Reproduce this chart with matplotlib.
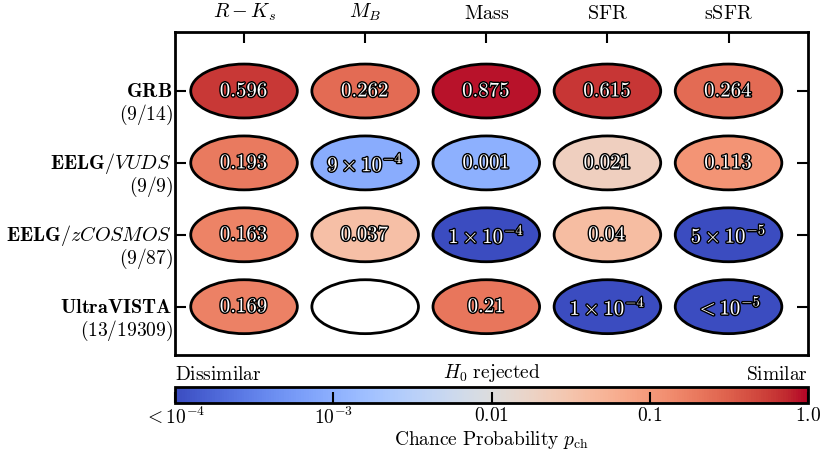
import numpy as np
import matplotlib
matplotlib.use("Agg")
import matplotlib.pyplot as plt
import matplotlib.patheffects as pe
from matplotlib.patches import Ellipse
from matplotlib.colors import LogNorm
from matplotlib import cm

plt.rcParams["mathtext.fontset"] = "cm"
plt.rcParams["font.family"] = ["serif"]

# columns / rows of the comparison table
columns = [r"$R-K_s$", r"$M_B$", r"$\mathrm{Mass}$", r"$\mathrm{SFR}$", r"$\mathrm{sSFR}$"]
samples = [r"$\mathbf{GRB}$", r"$\mathbf{EELG}/\mathit{VUDS}$",
           r"$\mathbf{EELG}/\mathit{zCOSMOS}$", r"$\mathbf{UltraVISTA}$"]
counts = [r"$(9/14)$", r"$(9/9)$", r"$(9/87)$", r"$(13/19309)$"]

# chance probabilities (nan = not available)
p_grb = [0.596, 0.262, 0.875, 0.615, 0.264]
p_vuds = [0.193, 9e-4, 0.001, 0.021, 0.113]
p_zcosmos = [0.163, 0.037, 1e-4, 0.04, 5e-5]
p_uvista = [0.169, np.nan, 0.21, 1e-4, 1e-5]

# printed labels
lab_grb = ["0.596", "0.262", "0.875", "0.615", "0.264"]
lab_vuds = ["0.193", r"9\times10^{-4}", "0.001", "0.021", "0.113"]
lab_zcosmos = ["0.163", "0.037", r"1\times10^{-4}", "0.04", r"5\times10^{-5}"]
lab_uvista = ["0.169", "", "0.21", r"1\times10^{-4}", r"<10^{-5}"]

cbar_ticks = [1e-4, 1e-3, 1e-2, 1e-1, 1.0]
cbar_labels = [r"$<10^{-4}$", r"$10^{-3}$", r"$0.01$", r"$0.1$", r"$1.0$"]

probs = [p_grb, p_vuds, p_zcosmos, p_uvista]
labels = [lab_grb, lab_vuds, lab_zcosmos, lab_uvista]

norm = LogNorm(vmin=1e-4, vmax=1.0)
cmap = plt.get_cmap("coolwarm")

fig = plt.figure(figsize=(8.3, 4.58), dpi=100)
ax = fig.add_axes([175 / 830, 1 - 355 / 458, 633 / 830, 323.3 / 458])

for i in range(len(samples)):
    for j in range(len(columns)):
        v = probs[i][j]
        fc = "white" if np.isnan(v) else cmap(norm(v))
        ax.add_patch(Ellipse((j, i), 0.88, 0.75, facecolor=fc, edgecolor="black", lw=2))
        if labels[i][j]:
            t = ax.text(j, i, r"$\mathbf{" + labels[i][j] + "}$", ha="center", va="center",
                        fontsize=15, color="white")
            t.set_path_effects([pe.withStroke(linewidth=2, foreground="black")])

ax.set_xlim(-0.57, 4.656)
ax.set_ylim(3.672, -0.825)

ax.set_xticks(range(len(columns)))
ax.set_xticklabels(columns, fontsize=14.5)
ax.xaxis.tick_top()
ax.tick_params(axis="x", direction="in", length=8, width=1.5, pad=6, bottom=False)
ax.set_yticks(range(len(samples)))
ax.set_yticklabels([])
ax.tick_params(axis="y", direction="in", length=8, width=1.5, left=True, right=True)
for s in ax.spines.values():
    s.set_linewidth(2)

for i in range(len(samples)):
    ax.text(-0.005, i + 0.085, samples[i], transform=ax.get_yaxis_transform(),
            ha="right", va="baseline", fontsize=14.5)
    ax.text(-0.003, i + 0.17, counts[i], transform=ax.get_yaxis_transform(),
            ha="right", va="top", fontsize=14)

# colorbar
cax = fig.add_axes([175 / 830, 1 - 402.7 / 458, 633 / 830, 16 / 458])
sm = cm.ScalarMappable(norm=norm, cmap=cmap)
cb = fig.colorbar(sm, cax=cax, orientation="horizontal")
cb.set_ticks(cbar_ticks)
cb.set_ticklabels(cbar_labels)
cb.minorticks_off()
cax.tick_params(direction="in", length=8, width=1.5, labelsize=14, pad=3)
cb.outline.set_linewidth(2)
cb.set_label(r"$\mathrm{Chance\ Probability}\ p_{\rm ch}$", fontsize=14, labelpad=1)

cax.text(0, 1.2, r"$\mathrm{Dissimilar}$", transform=cax.transAxes,
         ha="left", va="bottom", fontsize=14)
cax.text(0.5, 1.2, r"$H_0\ \mathrm{rejected}$", transform=cax.transAxes,
         ha="center", va="bottom", fontsize=14)
cax.text(1, 1.2, r"$\mathrm{Similar}$", transform=cax.transAxes,
         ha="right", va="bottom", fontsize=14)

fig.savefig("out.png", dpi=100)
